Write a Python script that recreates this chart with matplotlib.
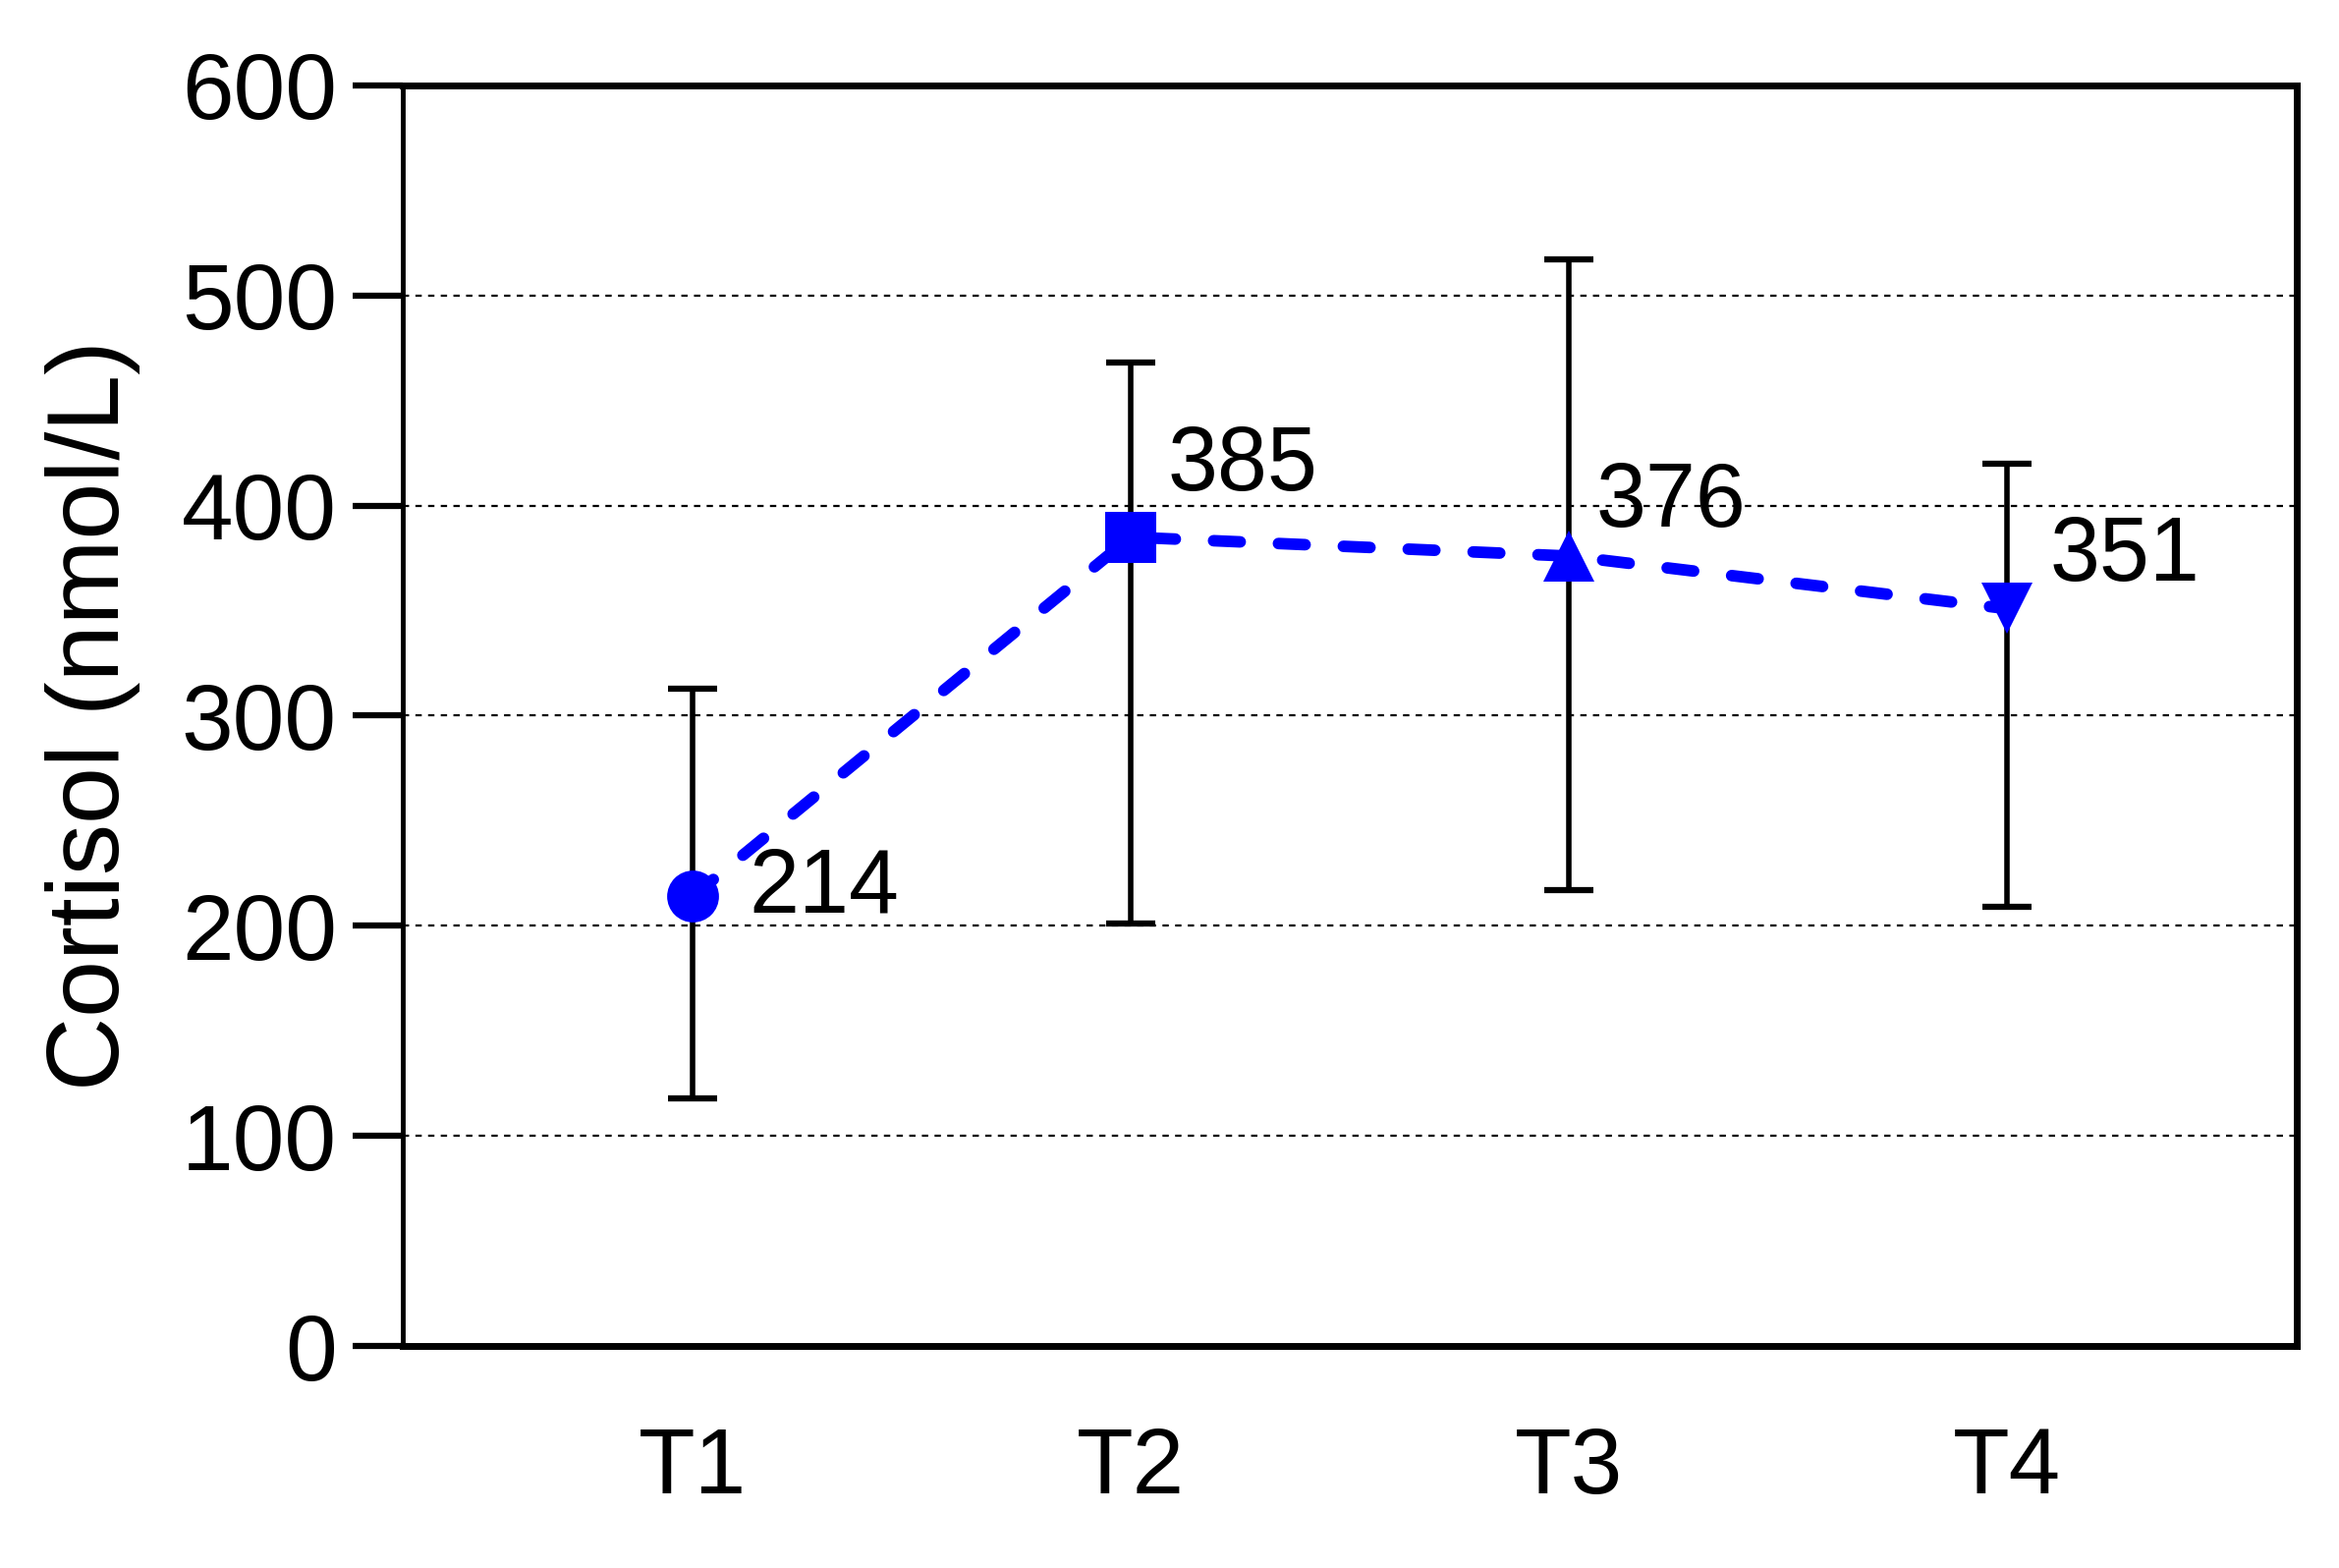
import matplotlib
matplotlib.use("Agg")
import matplotlib.pyplot as plt

# values
timepoints = ["T1", "T2", "T3", "T4"]
cortisol_mean = [214, 385, 376, 351]
err_low = [118, 201, 217, 209]
err_high = [313, 468, 517, 420]
markers = ["o", "s", "^", "v"]
# label offsets (points) for the mean values
label_offsets = [(41, 6), (27, 52), (20, 39), (32, 38)]

plt.rcParams["font.family"] = ["Liberation Sans", "DejaVu Sans"]

fig = plt.figure(figsize=(23.81, 15.96), dpi=100)
ax = fig.add_axes([0.172, 0.1416, 0.81, 0.8039])

x = list(range(1, len(timepoints) + 1))
yerr = [[m - lo for m, lo in zip(cortisol_mean, err_low)],
        [hi - m for m, hi in zip(cortisol_mean, err_high)]]

ax.errorbar(x, cortisol_mean, yerr=yerr, fmt="none", ecolor="black",
            elinewidth=4, capsize=18, capthick=4.5, zorder=2)

ax.plot(x, cortisol_mean, color="#0000FF", linewidth=8.5,
        linestyle=(0, (2.3, 3.3)), dash_capstyle="round", zorder=3)
for xi, yi, mk in zip(x, cortisol_mean, markers):
    ax.plot(xi, yi, marker=mk, markersize=38, color="#0000FF",
            markeredgewidth=0, linestyle="none", zorder=4)

for xi, yi, (dx, dy) in zip(x, cortisol_mean, label_offsets):
    ax.annotate(str(yi), xy=(xi, yi), xytext=(dx, dy), textcoords="offset points",
                ha="left", va="center", fontsize=66, color="black", zorder=5)

ax.set_xlim(0.337, 4.663)
ax.set_ylim(0, 600)
ax.set_xticks(x)
ax.set_xticklabels(timepoints)
ax.set_yticks(range(0, 601, 100))

ax.yaxis.grid(True, color="black", linestyle=(0, (2.9, 2.9)), linewidth=1.6)
ax.set_axisbelow(True)

ax.tick_params(axis="y", direction="out", length=37, width=4.5, pad=11, labelsize=68)
ax.tick_params(axis="x", length=0, pad=58, labelsize=68)

ax.spines["left"].set_linewidth(3.5)
for s in ["top", "right", "bottom"]:
    ax.spines[s].set_linewidth(5)

ax.set_ylabel("Cortisol (nmol/L)", fontsize=75)
ax.yaxis.set_label_coords(-0.138, 0.5)

fig.savefig("out.png", dpi=100)
